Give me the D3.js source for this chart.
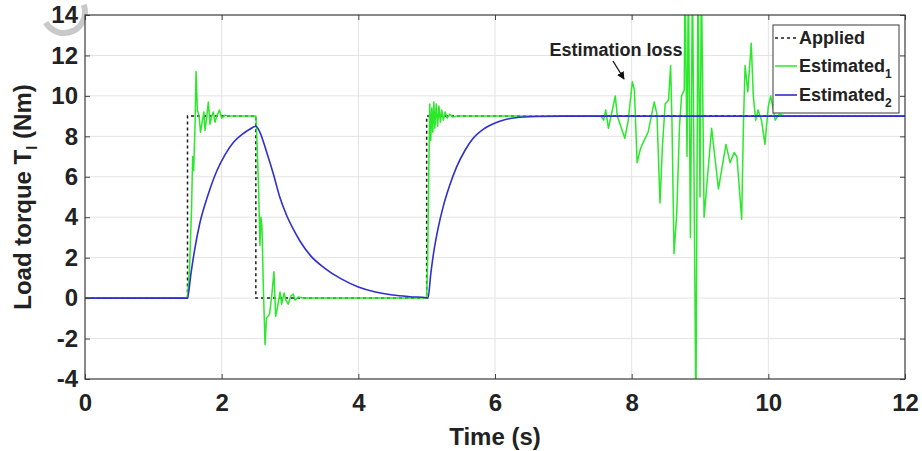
<!DOCTYPE html>
<html>
<head>
<meta charset="utf-8">
<script src="https://cdn.jsdelivr.net/npm/d3@7/dist/d3.min.js"></script>
<style>
  html, body { margin: 0; padding: 0; background: #fff; }
  svg { display: block; }
  text { font-family: "Liberation Sans", Arial, sans-serif; font-weight: bold; fill: #222; }
</style>
</head>
<body>
<svg id="chart" width="922" height="451"></svg>
<script>
// Axis ticks
const tickX = [0, 2, 4, 6, 8, 10, 12];
const tickY = [-4, -2, 0, 2, 4, 6, 8, 10, 12, 14];

// Applied load torque (step profile)
const appliedT = [0, 1.5, 1.5, 2.5, 2.5, 5.0, 5.0, 12];
const appliedV = [0, 0, 9, 9, 0, 0, 9, 9];

// Estimated torque, observer 1
const est1T = [0, 1.5, 1.53, 1.56, 1.575, 1.59, 1.61, 1.625, 1.645, 1.67, 1.69, 1.71, 1.74, 1.756, 1.78, 1.805, 1.829, 1.855, 1.878, 1.902, 1.93, 1.966, 2.0, 2.05, 2.1, 2.5,
  2.51, 2.54, 2.56, 2.575, 2.59, 2.61, 2.635, 2.655, 2.70, 2.735, 2.765, 2.79, 2.82, 2.854, 2.878, 2.912, 2.94, 2.975, 3.01, 3.048, 3.073, 3.12, 3.2, 5.0,
  5.015, 5.03, 5.045, 5.06, 5.075, 5.09, 5.105, 5.12, 5.14, 5.16, 5.18, 5.2, 5.22, 5.245, 5.27, 5.30, 5.34, 5.38, 5.44, 7.5,
  7.55, 7.59, 7.62, 7.66, 7.73, 7.76, 7.79, 7.84, 7.90, 7.95, 8.01, 8.04, 8.08, 8.13, 8.17, 8.24, 8.30, 8.33, 8.37, 8.415, 8.45, 8.49, 8.54, 8.57, 8.59, 8.62, 8.66, 8.70, 8.73, 8.77,
  8.78, 8.81, 8.83, 8.86, 8.89, 8.94, 8.97, 9.0, 9.02, 9.06,
  9.17, 9.27, 9.38, 9.44, 9.50, 9.54, 9.61, 9.635, 9.66, 9.70, 9.75, 9.78, 9.815, 9.85, 9.90, 9.95, 10.0, 10.035, 10.10, 10.16, 10.25, 12];
const est1V = [0, 0, 1.5, 4.5, 7.0, 6.3, 8.5, 11.2, 9.3, 9.0, 8.2, 8.6, 9.2, 8.3, 8.9, 9.7, 8.6, 9.0, 9.2, 8.7, 9.0, 9.3, 8.9, 9.05, 9.0, 9.0,
  8.4, 5.5, 2.6, 4.0, 3.5, 0.5, -2.3, -1.0, -0.8, 0.2, 1.3, -0.9, -0.4, 0.3, -0.3, 0.25, -0.1, -0.3, 0.1, 0.2, -0.1, 0.05, 0, 0,
  2.0, 6.0, 9.6, 7.8, 9.4, 8.2, 9.7, 8.4, 9.6, 8.5, 9.5, 8.7, 9.3, 8.8, 9.2, 8.9, 9.1, 8.95, 9.0, 9.0,
  9.0, 8.8, 9.3, 8.4, 9.5, 10.0, 9.0, 8.5, 7.9, 8.8, 10.7, 10.3, 6.7, 7.4, 7.7, 8.2, 9.2, 9.7, 9.1, 4.7, 7.5, 9.6, 9.8, 11.5, 8.7, 2.2, 4.2, 8.5, 10.0, 10.3,
  16, 7, 16, 3.0, 16, -6, 16, 5, 16, 4.0,
  8.4, 5.4, 7.6, 6.7, 7.2, 7.0, 3.9, 8.5, 11.5, 10.2, 12.6, 10.0, 8.8, 9.3, 8.8, 7.6, 9.5, 10.0, 8.8, 9.1, 9.0, 9.0];

// Estimated torque, observer 2
const est2T = [0, 1.5, 1.55, 1.6, 1.68, 1.8, 1.93, 2.05, 2.17, 2.3, 2.41, 2.5, 2.56, 2.66, 2.76, 2.85, 2.95, 3.05, 3.15, 3.3, 3.5, 3.75, 4.0, 4.25, 4.5, 4.75, 5.0,
  5.02, 5.06, 5.10, 5.17, 5.24, 5.34, 5.44, 5.56, 5.68, 5.85, 6.07, 6.3, 6.6, 7.0, 12];
const est2V = [0, 0, 1.2, 2.3, 3.7, 5.1, 6.3, 7.1, 7.7, 8.1, 8.35, 8.5, 8.2, 7.2, 6.1, 5.0, 4.1, 3.4, 2.8, 2.1, 1.5, 0.95, 0.55, 0.3, 0.15, 0.07, 0.02,
  0, 1.2, 2.2, 3.5, 4.5, 5.6, 6.5, 7.3, 7.9, 8.4, 8.75, 8.92, 8.98, 9.0, 9.0];

const legendLabels = ["Applied", "Estimated", "Estimated"];
const legendSubs = ["", "1", "2"];

const svg = d3.select("#chart");
const plot = { left: 85, right: 905, top: 15, bottom: 379 };

const x = d3.scaleLinear().domain([0, 12]).range([plot.left, plot.right]);
const y = d3.scaleLinear().domain([-4, 14]).range([plot.bottom, plot.top]);

// faint grey watermark arc near the top-left corner
const wm = d3.path();
wm.arc(64, 12, 21, -20 * Math.PI / 180, 150 * Math.PI / 180);
svg.append("path").attr("d", wm.toString())
  .attr("fill", "none").attr("stroke", "#c9c9c9").attr("stroke-width", 6);

// plot background
svg.append("rect")
  .attr("x", plot.left).attr("y", plot.top)
  .attr("width", plot.right - plot.left).attr("height", plot.bottom - plot.top)
  .attr("fill", "#fff");

// grid
const grid = svg.append("g").attr("stroke", "#e3e3e3").attr("stroke-width", 1);
grid.selectAll(".gx").data(tickX.slice(1, -1)).join("line")
  .attr("x1", d => x(d)).attr("x2", d => x(d))
  .attr("y1", plot.top).attr("y2", plot.bottom);
grid.selectAll(".gy").data(tickY.slice(1, -1)).join("line")
  .attr("y1", d => y(d)).attr("y2", d => y(d))
  .attr("x1", plot.left).attr("x2", plot.right);

// clipped data lines
svg.append("clipPath").attr("id", "clip").append("rect")
  .attr("x", plot.left).attr("y", plot.top)
  .attr("width", plot.right - plot.left).attr("height", plot.bottom - plot.top);

const lines = svg.append("g").attr("clip-path", "url(#clip)");
const zipPts = (ts, vs) => ts.map((t, i) => [t, vs[i]]);

lines.append("path")
  .attr("d", d3.line().x(d => x(d[0])).y(d => y(d[1]))(zipPts(appliedT, appliedV)))
  .attr("fill", "none").attr("stroke", "#1a1a1a").attr("stroke-width", 1.5)
  .attr("stroke-dasharray", "3,3");

lines.append("path")
  .attr("d", d3.line().x(d => x(d[0])).y(d => y(d[1]))(zipPts(est1T, est1V)))
  .attr("fill", "none").attr("stroke", "#2ae82a").attr("stroke-width", 1.5)
  .attr("stroke-linejoin", "round");

lines.append("path")
  .attr("d", d3.line().curve(d3.curveMonotoneX).x(d => x(d[0])).y(d => y(d[1]))(zipPts(est2T, est2V)))
  .attr("fill", "none").attr("stroke", "#2f2fcc").attr("stroke-width", 1.6);

// axes
const fmt = d => String(d);
const axB = svg.append("g").attr("transform", `translate(0,${plot.bottom})`)
  .call(d3.axisBottom(x).tickValues(tickX).tickSize(-5).tickPadding(15).tickFormat(fmt));
const axL = svg.append("g").attr("transform", `translate(${plot.left},0)`)
  .call(d3.axisLeft(y).tickValues(tickY).tickSize(-5).tickPadding(7).tickFormat(fmt));
const axT = svg.append("g").attr("transform", `translate(0,${plot.top})`)
  .call(d3.axisTop(x).tickValues(tickX).tickSize(-5).tickFormat(""));
const axR = svg.append("g").attr("transform", `translate(${plot.right},0)`)
  .call(d3.axisRight(y).tickValues(tickY).tickSize(-5).tickFormat(""));
[axB, axL, axT, axR].forEach(a => {
  a.select(".domain").remove();
  a.selectAll(".tick line").attr("stroke", "#444");
  a.selectAll("text").attr("font-size", 24).attr("fill", "#222")
    .attr("font-family", "'Liberation Sans', Arial, sans-serif").attr("font-weight", "bold");
});

// plot frame
svg.append("rect")
  .attr("x", plot.left).attr("y", plot.top)
  .attr("width", plot.right - plot.left).attr("height", plot.bottom - plot.top)
  .attr("fill", "none").attr("stroke", "#3a3a3a").attr("stroke-width", 1.2);

// axis titles
svg.append("text")
  .attr("x", (plot.left + plot.right) / 2).attr("y", 445)
  .attr("text-anchor", "middle").attr("font-size", 24)
  .text("Time (s)");

const yl = svg.append("text")
  .attr("transform", `translate(31,${(plot.top + plot.bottom) / 2}) rotate(-90)`)
  .attr("text-anchor", "middle").attr("font-size", 24);
yl.append("tspan").text("Load torque T");
yl.append("tspan").attr("font-size", 15).attr("dy", 6).text("l");
yl.append("tspan").attr("dy", -6).text(" (Nm)");

// annotation
svg.append("text")
  .attr("x", 616).attr("y", 56)
  .attr("text-anchor", "middle").attr("font-size", 18)
  .text("Estimation loss");
svg.append("defs").append("marker")
  .attr("id", "arrowhead").attr("viewBox", "0 0 10 10")
  .attr("refX", 9).attr("refY", 5).attr("markerWidth", 6).attr("markerHeight", 6)
  .attr("orient", "auto")
  .append("path").attr("d", "M0,0 L10,5 L0,10 z").attr("fill", "#111");
svg.append("line")
  .attr("x1", 613).attr("y1", 61).attr("x2", 624).attr("y2", 79)
  .attr("stroke", "#111").attr("stroke-width", 1.3)
  .attr("marker-end", "url(#arrowhead)");

// legend
const lg = svg.append("g").attr("transform", "translate(773,25)");
lg.append("rect").attr("width", 126).attr("height", 88)
  .attr("fill", "#fff").attr("stroke", "#3a3a3a").attr("stroke-width", 1);
const legendStyles = [
  { stroke: "#1a1a1a", dash: "3,3", w: 1.5 },
  { stroke: "#2ae82a", dash: null, w: 1.5 },
  { stroke: "#2f2fcc", dash: null, w: 1.6 }
];
const rowY = [13, 41, 70];
legendLabels.forEach((lab, i) => {
  lg.append("line").attr("x1", 2).attr("x2", 24).attr("y1", rowY[i]).attr("y2", rowY[i])
    .attr("stroke", legendStyles[i].stroke).attr("stroke-width", legendStyles[i].w)
    .attr("stroke-dasharray", legendStyles[i].dash);
  const t = lg.append("text").attr("x", 26).attr("y", rowY[i] + 6).attr("font-size", 18);
  t.append("tspan").text(lab);
  if (legendSubs[i]) t.append("tspan").attr("font-size", 12).attr("dy", 6).text(legendSubs[i]);
});
</script>
</body>
</html>
